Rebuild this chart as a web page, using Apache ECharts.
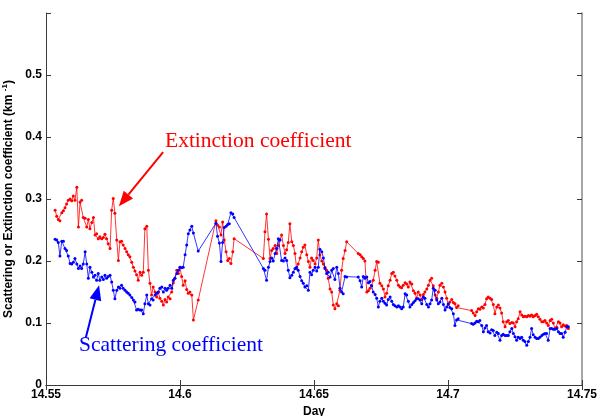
<!DOCTYPE html>
<html><head><meta charset="utf-8">
<script src="https://cdn.jsdelivr.net/npm/echarts@6/dist/echarts.min.js"></script>
<style>html,body{margin:0;padding:0;background:#fff}#c{width:598px;height:416px}</style>
</head><body><div id="c"></div>
<script>
const days = [
14.5534,14.5540,14.5546,14.5552,14.5559,14.5565,14.5571,14.5577,14.5583,14.5590,
14.5596,14.5602,14.5608,14.5615,14.5621,14.5627,14.5633,14.5639,14.5646,14.5652,
14.5658,14.5664,14.5671,14.5677,14.5683,14.5689,14.5695,14.5701,14.5708,14.5714,
14.5720,14.5726,14.5732,14.5739,14.5745,14.5751,14.5757,14.5764,14.5770,14.5776,
14.5782,14.5788,14.5795,14.5801,14.5807,14.5813,14.5820,14.5826,14.5832,14.5838,
14.5844,14.5851,14.5857,14.5863,14.5869,14.5876,14.5882,14.5888,14.5894,14.5900,
14.5907,14.5913,14.5919,14.5925,14.5932,14.5938,14.5944,14.5950,14.5956,14.5963,
14.5969,14.5975,14.5981,14.5988,14.5994,14.6000,14.6006,14.6012,14.6019,14.6025,
14.6031,14.6037,14.6044,14.6050,14.6068,
14.6134,14.6140,14.6147,14.6153,14.6159,14.6165,14.6172,14.6178,14.6184,14.6190,14.6197,14.6202,
14.6311,14.6317,14.6323,14.6330,14.6336,14.6342,14.6348,14.6355,14.6361,14.6367,
14.6373,14.6379,14.6386,14.6392,14.6398,14.6404,14.6410,14.6417,14.6423,14.6429,
14.6435,14.6441,14.6448,14.6454,14.6460,14.6466,14.6473,14.6479,14.6485,14.6491,
14.6497,14.6504,14.6510,14.6516,14.6522,14.6529,14.6535,14.6541,14.6547,14.6553,
14.6560,14.6566,14.6572,14.6578,14.6585,14.6591,14.6597,14.6603,14.6609,14.6616,14.6622,
14.6665,14.6672,14.6678,14.6684,14.6690,14.6697,14.6703,14.6709,14.6715,14.6721,
14.6728,14.6734,14.6740,14.6746,14.6753,14.6759,14.6765,14.6771,14.6777,14.6784,
14.6790,14.6796,14.6802,14.6809,14.6815,14.6821,14.6827,14.6833,14.6840,14.6846,
14.6852,14.6858,14.6865,14.6871,14.6877,14.6883,14.6889,14.6896,14.6902,14.6908,
14.6914,14.6921,14.6927,14.6933,14.6939,14.6945,14.6952,14.6958,14.6964,14.6970,
14.6977,14.6983,14.6989,14.6995,14.7001,14.7007,14.7014,14.7020,14.7026,14.7032,14.7038,
14.7088,14.7094,14.7101,14.7107,14.7113,14.7119,14.7126,14.7132,14.7138,14.7144,
14.7150,14.7157,14.7163,14.7169,14.7175,14.7182,14.7188,14.7194,14.7200,14.7206,
14.7213,14.7219,14.7225,14.7231,14.7238,14.7244,14.7250,14.7256,14.7262,14.7269,
14.7275,14.7281,14.7287,14.7294,14.7300,14.7306,14.7312,14.7318,14.7325,14.7331,
14.7337,14.7343,14.7350,14.7356,14.7362,14.7368,14.7374,14.7381,14.7387,14.7393,
14.7399,14.7406,14.7412,14.7418,14.7424,14.7430,14.7437,14.7443,14.7449
];
const extinction = [
0.282,0.272,0.267,0.265,0.278,0.281,0.286,0.292,0.298,0.300,
0.297,0.305,0.298,0.319,0.255,0.295,0.298,0.270,0.269,0.255,
0.267,0.252,0.262,0.270,0.242,0.244,0.236,0.239,0.236,0.238,
0.243,0.236,0.228,0.220,0.282,0.301,0.277,0.234,0.201,0.231,
0.232,0.226,0.220,0.215,0.210,0.207,0.198,0.190,0.184,0.178,
0.169,0.182,0.177,0.182,0.252,0.256,0.185,0.164,0.145,0.158,
0.150,0.142,0.150,0.140,0.135,0.129,0.138,0.134,0.142,0.139,
0.150,0.165,0.172,0.185,0.180,0.190,0.175,0.161,0.168,0.154,
0.148,0.150,0.145,0.105,0.137,
0.265,0.258,0.255,0.242,0.263,0.234,0.215,0.201,0.204,0.196,0.215,0.236,
0.204,0.247,0.276,0.235,0.204,0.217,0.220,0.225,0.212,0.225,
0.234,0.242,0.225,0.212,0.218,0.230,0.260,0.231,0.225,0.212,
0.188,0.195,0.205,0.215,0.222,0.226,0.210,0.199,0.190,0.205,
0.201,0.195,0.205,0.234,0.210,0.200,0.195,0.190,0.185,0.172,
0.155,0.150,0.129,0.123,0.131,0.128,0.153,0.185,0.204,0.217,0.231,
0.212,0.210,0.207,0.204,0.200,0.150,0.152,0.156,0.160,0.169,
0.185,0.199,0.198,0.164,0.160,0.155,0.142,0.148,0.160,0.169,
0.180,0.182,0.176,0.169,0.161,0.158,0.157,0.161,0.165,0.163,
0.158,0.166,0.163,0.152,0.148,0.140,0.150,0.145,0.138,0.146,
0.150,0.155,0.161,0.169,0.172,0.160,0.145,0.140,0.150,0.161,
0.164,0.158,0.150,0.140,0.130,0.134,0.138,0.133,0.131,0.125,0.128,
0.120,0.116,0.112,0.118,0.123,0.122,0.126,0.124,0.130,0.139,
0.142,0.140,0.138,0.130,0.115,0.126,0.129,0.124,0.116,0.102,
0.094,0.102,0.104,0.099,0.101,0.100,0.094,0.102,0.107,0.118,
0.113,0.110,0.111,0.110,0.112,0.111,0.113,0.110,0.112,0.114,
0.110,0.106,0.102,0.102,0.104,0.100,0.096,0.104,0.106,0.100,
0.091,0.093,0.102,0.100,0.094,0.097,0.095,0.096,0.091
];
const scattering = [
0.235,0.234,0.230,0.208,0.232,0.232,0.220,0.217,0.208,0.196,
0.195,0.198,0.204,0.195,0.188,0.192,0.188,0.195,0.215,0.195,
0.172,0.190,0.182,0.174,0.177,0.169,0.180,0.169,0.174,0.170,
0.177,0.172,0.175,0.177,0.166,0.153,0.139,0.153,0.158,0.156,
0.161,0.156,0.153,0.150,0.148,0.145,0.141,0.137,0.134,0.121,
0.122,0.121,0.121,0.115,0.131,0.145,0.131,0.129,0.139,0.137,
0.145,0.148,0.150,0.156,0.158,0.150,0.156,0.153,0.156,0.161,
0.156,0.169,0.172,0.180,0.185,0.190,0.189,0.190,0.210,0.226,
0.244,0.250,0.256,0.245,0.216,
0.261,0.240,0.229,0.199,0.230,0.254,0.256,0.259,0.260,0.278,0.276,0.270,
0.188,0.185,0.169,0.190,0.199,0.205,0.200,0.212,0.220,0.236,
0.234,0.201,0.200,0.205,0.201,0.185,0.173,0.177,0.182,0.188,
0.190,0.185,0.175,0.168,0.164,0.158,0.160,0.153,0.182,0.178,
0.185,0.190,0.184,0.190,0.219,0.215,0.205,0.188,0.180,0.182,
0.174,0.185,0.188,0.170,0.190,0.180,0.156,0.150,0.147,0.175,0.174,
0.174,0.168,0.158,0.175,0.172,0.174,0.165,0.167,0.160,0.150,
0.146,0.140,0.126,0.135,0.140,0.135,0.132,0.129,0.138,0.142,
0.135,0.130,0.128,0.126,0.128,0.126,0.123,0.126,0.147,0.145,
0.135,0.126,0.130,0.133,0.136,0.139,0.139,0.137,0.131,0.142,
0.140,0.130,0.126,0.131,0.137,0.156,0.153,0.137,0.131,0.134,
0.140,0.130,0.121,0.126,0.131,0.125,0.123,0.115,0.096,0.105,0.107,
0.099,0.098,0.100,0.103,0.102,0.104,0.096,0.086,0.092,0.096,
0.086,0.084,0.089,0.088,0.080,0.085,0.083,0.072,0.080,0.082,
0.080,0.080,0.080,0.086,0.091,0.083,0.078,0.072,0.077,0.075,
0.077,0.072,0.070,0.064,0.070,0.077,0.091,0.081,0.077,0.075,
0.075,0.077,0.080,0.082,0.083,0.083,0.072,0.091,0.091,0.090,
0.090,0.091,0.086,0.083,0.083,0.077,0.085,0.094,0.094
];
const xTicks = [14.55, 14.6, 14.65, 14.7, 14.75];
const yTicks = [0, 0.1, 0.2, 0.3, 0.4, 0.5];
const extLabel = 'Extinction coefficient';
const scaLabel = 'Scattering coefficient';
// annotation anchors in data coordinates: text left/middle, arrow tail, arrow tip
const extText = [14.5944, 0.3935];
const extArrow = [[14.5937, 0.3756], [14.5772, 0.2884]];
const scaText = [14.5623, 0.0645];
const scaArrow = [[14.5649, 0.0770], [14.5698, 0.1609]];

const chart = echarts.init(document.getElementById('c'), null, {renderer: 'canvas'});
const sans = 'Arial, "Liberation Sans", Helvetica, sans-serif';
const axisCol = '#3a3a3a';
function pair(a, b) { return a.map((v, i) => [v, b[i]]); }
const lab = {color: '#000', fontFamily: sans, fontWeight: 'bold', fontSize: 12};
chart.setOption({
  animation: false,
  grid: {left: 46, right: 16, top: 13, bottom: 31, containLabel: false, outerBoundsMode: 'none'},
  xAxis: [{
    type: 'value', min: xTicks[0], max: xTicks[xTicks.length - 1], interval: 0.05,
    name: 'Day', nameLocation: 'middle', nameGap: 15,
    nameTextStyle: {color: '#000', fontFamily: sans, fontWeight: 'bold', fontSize: 12},
    axisLine: {lineStyle: {color: axisCol, width: 1}},
    axisTick: {inside: true, length: 5, lineStyle: {color: axisCol}},
    axisLabel: Object.assign({margin: 4, formatter: v => String(parseFloat(v.toFixed(2)))}, lab),
    splitLine: {show: false}
  }, {
    type: 'value', position: 'top', min: xTicks[0], max: xTicks[xTicks.length - 1], interval: 0.05,
    axisLine: {lineStyle: {color: axisCol, width: 1}},
    axisTick: {inside: true, length: 5, lineStyle: {color: axisCol}},
    axisLabel: {show: false}, splitLine: {show: false}
  }],
  yAxis: [{
    type: 'value', min: 0, max: 0.6, interval: 0.1,
    name: '{a|Scattering or Extinction coefficient (km }{s|-1}{a|)}',
    nameLocation: 'middle', nameGap: 22, nameRotate: 90,
    nameTextStyle: {rich: {
      a: {color: '#000', fontFamily: sans, fontWeight: 'bold', fontSize: 12, lineHeight: 16},
      s: {color: '#000', fontFamily: sans, fontWeight: 'bold', fontSize: 8, verticalAlign: 'top', lineHeight: 16}
    }},
    axisLine: {lineStyle: {color: axisCol, width: 1}},
    axisTick: {inside: true, length: 5, lineStyle: {color: axisCol}},
    axisLabel: Object.assign({margin: 4, formatter: v => (yTicks.some(t => Math.abs(t - v) < 1e-9) ? String(parseFloat(v.toFixed(1))) : '')}, lab),
    splitLine: {show: false}
  }, {
    type: 'value', position: 'right', min: 0, max: 0.6, interval: 0.1,
    axisLine: {lineStyle: {color: '#888', width: 1.5}},
    axisTick: {inside: true, length: 5, lineStyle: {color: axisCol}},
    axisLabel: {show: false}, splitLine: {show: false}
  }],
  series: [{
    name: 'Extinction', type: 'line', data: pair(days, extinction),
    symbol: 'circle', symbolSize: 3, showSymbol: true,
    lineStyle: {color: '#ff0000', width: 0.8}, itemStyle: {color: '#ff0000'},
    z: 3
  }, {
    name: 'Scattering', type: 'line', data: pair(days, scattering),
    symbol: 'circle', symbolSize: 3, showSymbol: true,
    lineStyle: {color: '#0000ff', width: 0.8}, itemStyle: {color: '#0000ff'},
    z: 4
  }]
});

function arrow(tail, tip, color) {
  const p0 = chart.convertToPixel({gridIndex: 0}, tail);
  const p1 = chart.convertToPixel({gridIndex: 0}, tip);
  const dx = p1[0] - p0[0], dy = p1[1] - p0[1];
  const L = Math.hypot(dx, dy), ux = dx / L, uy = dy / L;
  const hl = 15, hw = 6;
  const bx = p1[0] - ux * hl, by = p1[1] - uy * hl;
  return [{
    type: 'line', shape: {x1: p0[0], y1: p0[1], x2: bx, y2: by},
    style: {stroke: color, lineWidth: 2}, z: 10
  }, {
    type: 'polygon', shape: {points: [[p1[0], p1[1]], [bx - uy * hw, by + ux * hw], [bx + uy * hw, by - ux * hw]]},
    style: {fill: color}, z: 10
  }];
}
function text(anchor, str, color) {
  const p = chart.convertToPixel({gridIndex: 0}, anchor);
  return {type: 'text', x: p[0], y: p[1], z: 10,
    style: {text: str, fill: color, font: '21.5px "Liberation Serif", "Times New Roman", serif', textAlign: 'left', textVerticalAlign: 'middle'}};
}
chart.setOption({graphic: [
  ...arrow(extArrow[0], extArrow[1], '#ff0000'),
  ...arrow(scaArrow[0], scaArrow[1], '#0000ff'),
  text(extText, extLabel, '#ff0000'),
  text(scaText, scaLabel, '#0000ff')
]});
</script></body></html>
